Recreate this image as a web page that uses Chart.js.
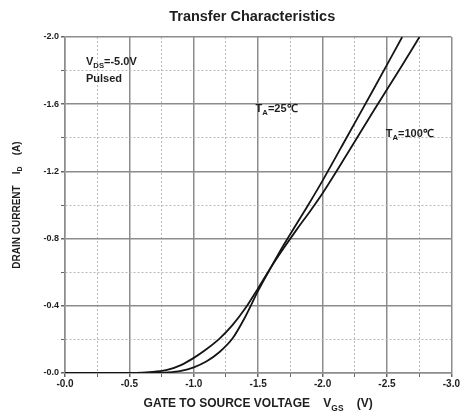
<!DOCTYPE html>
<html>
<head>
<meta charset="utf-8">
<script src="https://cdn.jsdelivr.net/npm/chart.js@4.4.0/dist/chart.umd.min.js"></script>
<style>
html, body { margin: 0; padding: 0; background: #fff; }
#wrap { width: 461px; height: 413px; }
</style>
</head>
<body>
<div id="wrap"><canvas id="chart"></canvas></div>
<script>
// values (V_GS in volts, I_D in amps)
const volts25 = [0, -0.5, -0.6, -0.7, -0.8, -0.9, -1.0, -1.1, -1.2, -1.3, -1.4, -1.5, -1.6, -1.7, -1.8, -1.9, -2.0, -2.2, -2.4, -2.618];
const amps25  = [0, 0, 0, -0.001, -0.004, -0.013, -0.034, -0.07, -0.125, -0.205, -0.335, -0.49, -0.63, -0.765, -0.89, -1.015, -1.145, -1.42, -1.695, -2.0];

const volts100 = [0, -0.5, -0.6, -0.7, -0.8, -0.9, -1.0, -1.1, -1.2, -1.3, -1.4, -1.5, -1.6, -1.7, -1.8, -1.9, -2.0, -2.2, -2.4, -2.6, -2.752];
const amps100  = [0, 0, -0.002, -0.008, -0.02, -0.047, -0.09, -0.143, -0.205, -0.285, -0.385, -0.505, -0.63, -0.745, -0.855, -0.96, -1.07, -1.315, -1.565, -1.81, -2.0];

const xTickLabels = ["-0.0", "-0.5", "-1.0", "-1.5", "-2.0", "-2.5", "-3.0"];
const yTickLabels = ["-0.0", "-0.4", "-0.8", "-1.2", "-1.6", "-2.0"];

const TITLE = "Transfer Characteristics";
const X_TITLE = [["GATE TO SOURCE VOLTAGE    V", 0], ["GS", 1], ["    (V)", 0]];
const Y_TITLE = [["DRAIN CURRENT    I", 0], ["D", 1], ["    (A)", 0]];

// in-plot notes, anchored in data units
const notes = [
    { x: -0.163, y: -1.85, parts: [["V", 0], ["DS", 1], ["=-5.0V", 0]] },
    { x: -0.163, y: -1.75, parts: [["Pulsed", 0]] },
    { x: -1.48, y: -1.57, parts: [["T", 0], ["A", 1], ["=25\u2103", 0]] },
    { x: -2.49, y: -1.42, parts: [["T", 0], ["A", 1], ["=100\u2103", 0]] },
];

const FONT = "'Liberation Sans', Arial, sans-serif";
const INK = "#1e1e1e";

function pts(xs, ys) {
    return xs.map((x, i) => ({ x: x, y: ys[i] }));
}

function isMajor(v, step) {
    return Math.abs(v / step - Math.round(v / step)) < 1e-6;
}

function partsWidth(ctx, parts, size) {
    let w = 0;
    parts.forEach(p => {
        ctx.font = "bold " + (p[1] ? size * 0.7 : size) + "px " + FONT;
        w += ctx.measureText(p[0]).width;
    });
    return w;
}

// draws text with subscript pieces, starting at x, middle baseline at y
function drawParts(ctx, parts, x, y, size) {
    ctx.textBaseline = "middle";
    ctx.textAlign = "left";
    parts.forEach(p => {
        let s = p[1] ? size * 0.7 : size;
        ctx.font = "bold " + s + "px " + FONT;
        ctx.fillText(p[0], x, p[1] ? y + size * 0.35 : y);
        x += ctx.measureText(p[0]).width;
    });
}

const textPlugin = {
    id: "sheetText",
    afterDraw(chart) {
        const ctx = chart.ctx;
        const area = chart.chartArea;
        const xs = chart.scales.x, ys = chart.scales.y;
        ctx.save();
        ctx.fillStyle = INK;

        // title
        ctx.font = "bold 14.5px " + FONT;
        ctx.textAlign = "center";
        ctx.textBaseline = "middle";
        ctx.fillText(TITLE, (area.left + area.right) / 2 - 6, 17);

        // x axis title
        let w = partsWidth(ctx, X_TITLE, 12);
        drawParts(ctx, X_TITLE, (area.left + area.right) / 2 - w / 2, 404, 12);

        // y axis title, rotated
        w = partsWidth(ctx, Y_TITLE, 10);
        ctx.save();
        ctx.translate(17, (area.top + area.bottom) / 2);
        ctx.rotate(-Math.PI / 2);
        drawParts(ctx, Y_TITLE, -w / 2, 0, 10);
        ctx.restore();

        notes.forEach(n => {
            drawParts(ctx, n.parts, xs.getPixelForValue(n.x), ys.getPixelForValue(n.y), 11);
        });
        ctx.restore();
    }
};

const curveStyle = {
    showLine: true,
    borderColor: "#151515",
    borderWidth: 1.8,
    pointRadius: 0,
    fill: false,
    cubicInterpolationMode: "monotone",
};

new Chart(document.getElementById("chart"), {
    type: "scatter",
    data: {
        datasets: [
            Object.assign({ label: "TA=25C", data: pts(volts25, amps25) }, curveStyle),
            Object.assign({ label: "TA=100C", data: pts(volts100, amps100) }, curveStyle),
        ],
    },
    options: {
        responsive: true,
        maintainAspectRatio: false,
        animation: false,
        layout: { padding: { top: 37, right: 9, left: 0, bottom: 0 } },
        plugins: {
            legend: { display: false },
            tooltip: { enabled: false },
        },
        scales: {
            x: {
                type: "linear",
                min: -3,
                max: 0,
                reverse: true,
                afterFit: (scale) => { scale.height = 40; },
                ticks: {
                    stepSize: 0.25,
                    autoSkip: false,
                    maxRotation: 0,
                    padding: 1,
                    color: INK,
                    font: { family: FONT, size: 10, weight: "bold" },
                    callback: (v) => isMajor(v, 0.5) ? xTickLabels[Math.round(-v / 0.5)] : "",
                },
                grid: {
                    color: (c) => (c.tick && isMajor(c.tick.value, 0.5)) ? "#8c8c8c" : "#b8b8b8",
                    lineWidth: (c) => (c.tick && isMajor(c.tick.value, 0.5)) ? 1.5 : 1,
                    tickColor: "#666",
                    tickLength: 4,
                },
                border: {
                    color: "#8c8c8c",
                    width: 1.5,
                    dash: (c) => (c.tick && !isMajor(c.tick.value, 0.5)) ? [2, 2] : [],
                },
            },
            y: {
                type: "linear",
                min: -2,
                max: 0,
                reverse: true,
                afterFit: (scale) => { scale.width = 65; },
                ticks: {
                    stepSize: 0.2,
                    autoSkip: false,
                    padding: 2,
                    color: INK,
                    font: { family: FONT, size: 9, weight: "bold" },
                    callback: (v) => isMajor(v, 0.4) ? yTickLabels[Math.round(-v / 0.4)] : "",
                },
                grid: {
                    color: (c) => (c.tick && isMajor(c.tick.value, 0.4)) ? "#8c8c8c" : "#b8b8b8",
                    lineWidth: (c) => (c.tick && isMajor(c.tick.value, 0.4)) ? 1.5 : 1,
                    tickColor: "#666",
                    tickLength: 4,
                },
                border: {
                    color: "#8c8c8c",
                    width: 1.5,
                    dash: (c) => (c.tick && !isMajor(c.tick.value, 0.4)) ? [2, 2] : [],
                },
            },
        },
    },
    plugins: [textPlugin],
});
</script>
</body>
</html>
